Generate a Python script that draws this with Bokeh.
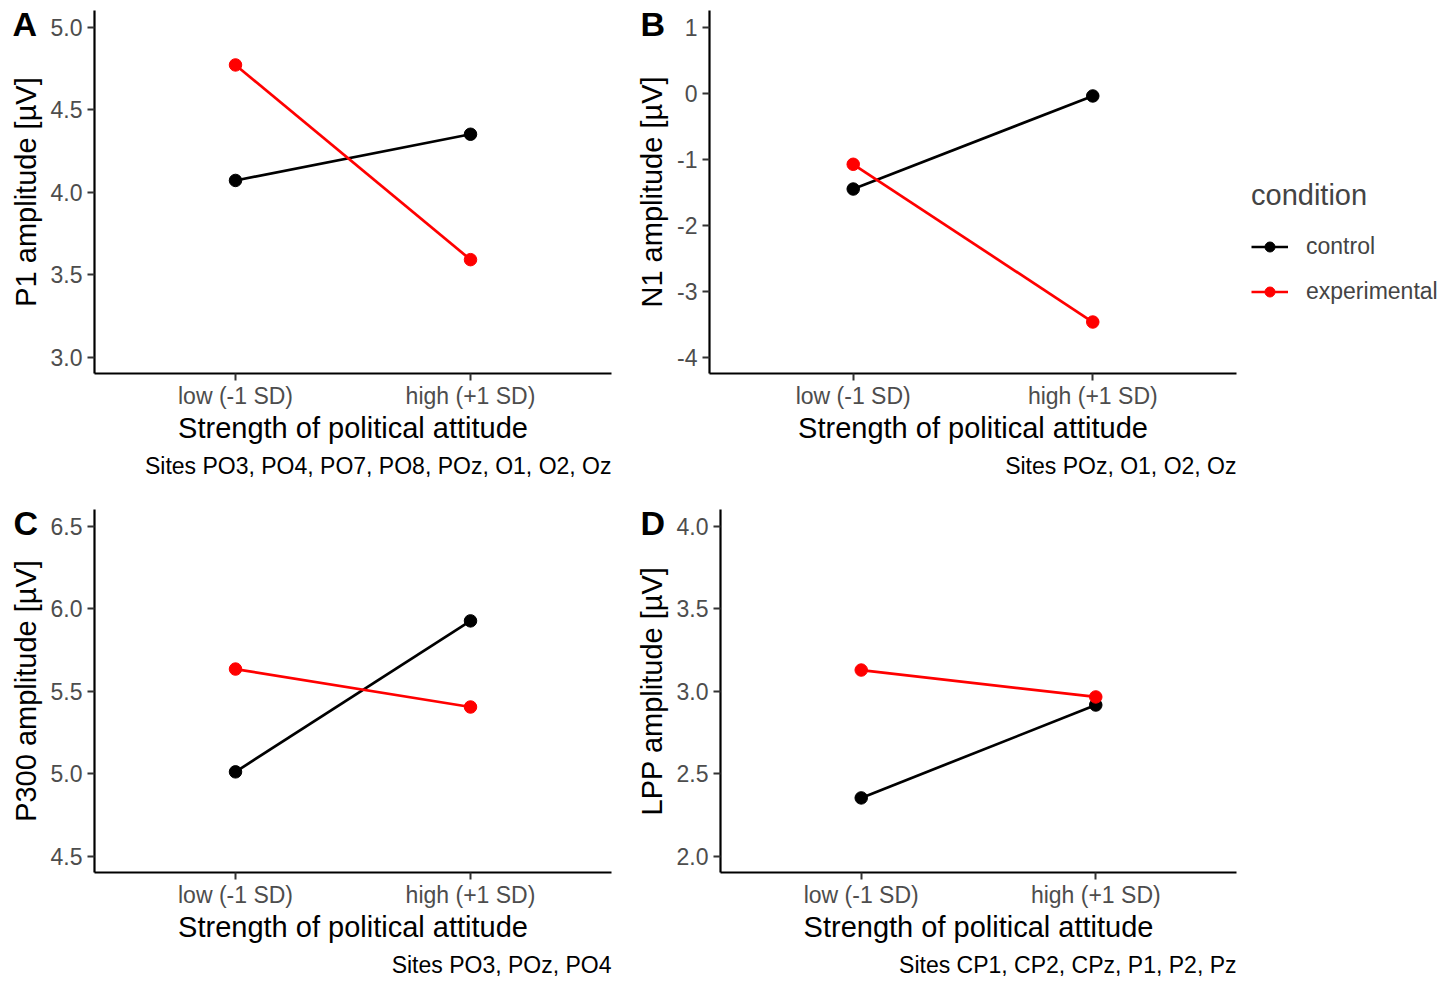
from bokeh.plotting import figure
from bokeh.models import FactorRange, Range1d, FixedTicker, PrintfTickFormatter, Title, Legend, LegendItem
from bokeh.layouts import row, column
from bokeh.embed import file_html
from bokeh.resources import INLINE

FONT = "Liberation Sans"

levels = ["low (-1 SD)", "high (+1 SD)"]
x_title = "Strength of political attitude"
condition_names = ["control", "experimental"]
condition_colors = ["#000000", "#FF0000"]

p1_control = [4.07, 4.35]
p1_experimental = [4.77, 3.59]
n1_control = [-1.455, -0.045]
n1_experimental = [-1.08, -3.47]
p300_control = [5.01, 5.925]
p300_experimental = [5.633, 5.403]
lpp_control = [2.352, 2.915]
lpp_experimental = [3.127, 2.964]

p1_ticks = [3.0, 3.5, 4.0, 4.5, 5.0]
n1_ticks = [-4, -3, -2, -1, 0, 1]
p300_ticks = [4.5, 5.0, 5.5, 6.0, 6.5]
lpp_ticks = [2.0, 2.5, 3.0, 3.5, 4.0]

panel_letters = ["A", "B", "C", "D"]
y_titles = ["P1 amplitude [µV]", "N1 amplitude [µV]", "P300 amplitude [µV]", "LPP amplitude [µV]"]
captions = ["Sites PO3, PO4, PO7, PO8, POz, O1, O2, Oz",
            "Sites POz, O1, O2, Oz",
            "Sites PO3, POz, PO4",
            "Sites CP1, CP2, CPz, P1, P2, Pz"]

X_PAD = 0.1


def make_panel(letter, ytitle, ticks, fmt, ctrl, expt, caption,
               frame_w, frame_h, left, right, top, bottom, letter_dx, legend=None):
    lo, hi = min(ticks), max(ticks)
    pad = 0.05 * (hi - lo)
    p = figure(x_range=FactorRange(*levels, range_padding=X_PAD),
               y_range=Range1d(lo - pad, hi + pad),
               frame_width=frame_w, frame_height=frame_h,
               min_border_left=left, min_border_right=right,
               min_border_top=top, min_border_bottom=bottom,
               output_backend="svg", toolbar_location=None)
    p.outline_line_color = None
    p.xgrid.visible = False
    p.ygrid.visible = False
    p.background_fill_color = "white"
    p.border_fill_color = "white"

    # panel letter drawn as the figure title, pulled down beside the frame top
    p.title.text = letter
    p.title.align = "left"
    p.title.offset = letter_dx
    p.title.standoff = -64
    p.title.vertical_align = "bottom"
    p.title.text_font = FONT
    p.title.text_font_size = "34px"
    p.title.text_font_style = "bold"
    p.title.text_color = "black"

    p.yaxis.ticker = FixedTicker(ticks=ticks)
    p.yaxis.formatter = PrintfTickFormatter(format=fmt)
    for ax in (p.xaxis[0], p.yaxis[0]):
        ax.axis_line_color = "black"
        ax.axis_line_width = 2.2
        ax.major_tick_line_color = "#333333"
        ax.major_tick_line_width = 2
        ax.major_tick_out = 7
        ax.major_tick_in = 0
        ax.minor_tick_line_color = None
        ax.major_label_text_font = FONT
        ax.major_label_text_font_size = "23px"
        ax.major_label_text_color = "#4D4D4D"
        ax.axis_label_text_font = FONT
        ax.axis_label_text_font_size = "29px"
        ax.axis_label_text_font_style = "normal"
        ax.axis_label_text_color = "black"
    p.xaxis.axis_label = x_title
    p.xaxis.major_label_standoff = 2
    p.xaxis.axis_label_standoff = 0
    p.yaxis.axis_label = ytitle
    p.yaxis.major_label_standoff = 5
    p.yaxis.axis_label_standoff = 6

    lines = []
    for vals, col in zip([ctrl, expt], condition_colors):
        lines.append(p.line(levels, vals, line_color=col, line_width=2.7))
    pts = []
    for vals, col in zip([ctrl, expt], condition_colors):
        pts.append(p.scatter(levels, vals, size=12.5, fill_color=col, line_color=col))

    p.add_layout(Title(text=caption, align="right", text_font=FONT, text_font_size="23px",
                       text_font_style="normal", text_color="black", standoff=8), "below")

    if legend is not None:
        items = [LegendItem(label=name, renderers=[ln, pt])
                 for name, ln, pt in zip(condition_names, lines, pts)]
        lg = Legend(items=items, title="condition", location=legend,
                    title_text_font=FONT, title_text_font_size="29px", title_text_font_style="normal",
                    label_text_font=FONT, label_text_font_size="23px",
                    glyph_width=37, glyph_height=25, label_height=25, label_standoff=18,
                    spacing=18, title_standoff=21, padding=0, margin=0,
                    border_line_color=None, background_fill_alpha=0)
        p.add_layout(lg, "right")
    return p


pA = make_panel("A", y_titles[0], p1_ticks, "%.1f", p1_control, p1_experimental, captions[0],
                517, 363, 94, 19, 10, 104, -82)
pB = make_panel("B", y_titles[1], n1_ticks, "%d", n1_control, n1_experimental, captions[1],
                527, 363, 79, 211, 10, 104, -69)
pB_legend_items = None
pC = make_panel("C", y_titles[2], p300_ticks, "%.1f", p300_control, p300_experimental, captions[2],
                517, 363, 94, 19, 27, 104, -81)
pD = make_panel("D", y_titles[3], lpp_ticks, "%.1f", lpp_control, lpp_experimental, captions[3],
                516, 363, 90, 211, 27, 104, -80)

# legend lives in the right border of panel B
lines_b = [r for r in pB.renderers if r.glyph.__class__.__name__ == "Line"]
pts_b = [r for r in pB.renderers if r.glyph.__class__.__name__ == "Scatter"]
items = [LegendItem(label=name, renderers=[ln, pt])
         for name, ln, pt in zip(condition_names, lines_b, pts_b)]
pB.add_layout(Legend(items=items, title="condition", location=(15, 68),
                     title_text_font=FONT, title_text_font_size="29px", title_text_font_style="normal",
                     label_text_font=FONT, label_text_font_size="23px",
                     glyph_width=37, glyph_height=25, label_height=25, label_standoff=18,
                     spacing=18, title_standoff=21, padding=0, margin=0,
                     border_line_color=None, background_fill_alpha=0), "right")

layout = column(row(pA, pB), row(pC, pD))
open("out.html", "w").write(file_html(layout, INLINE))
